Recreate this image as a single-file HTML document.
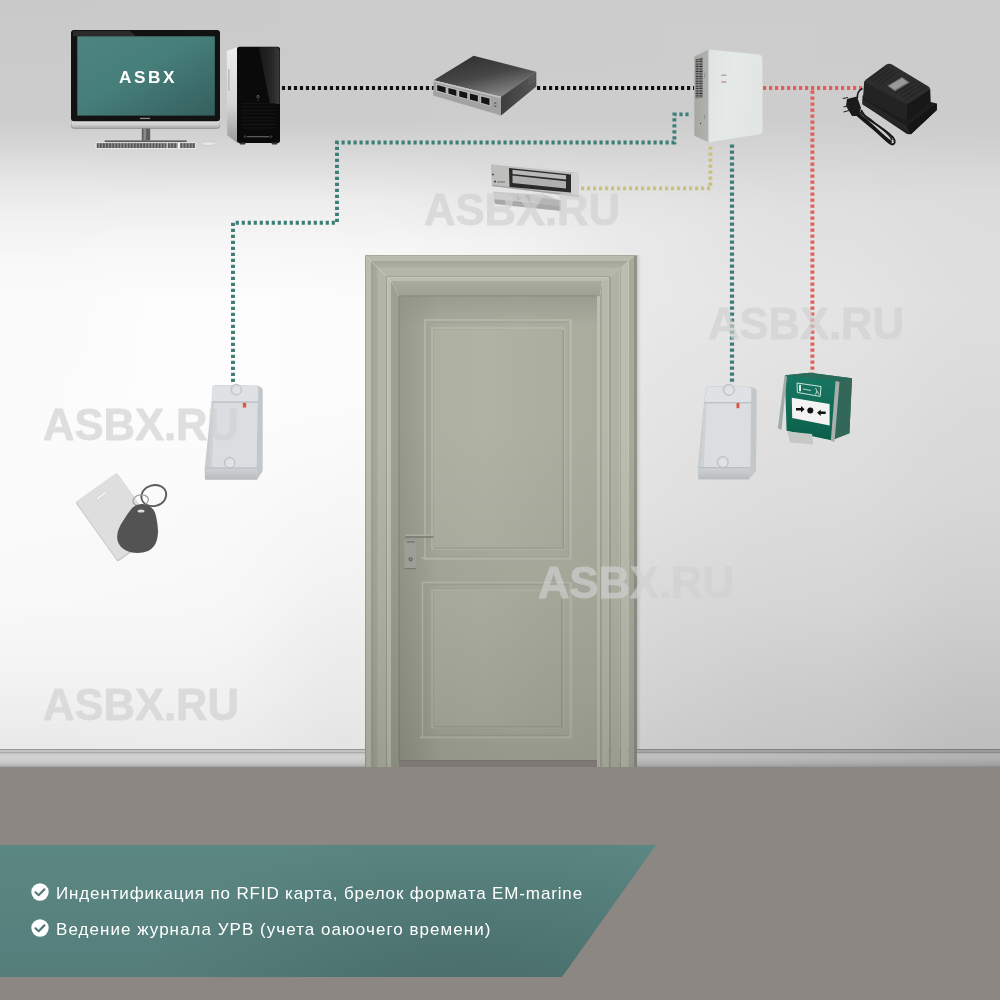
<!DOCTYPE html>
<html><head><meta charset="utf-8">
<style>
html,body{margin:0;padding:0;width:1000px;height:1000px;overflow:hidden;background:#f4f4f4;}
body{position:relative;font-family:"Liberation Sans",sans-serif;}
svg{position:absolute;left:0;top:0;display:block;will-change:transform;}
.bl{will-change:transform;position:absolute;left:56px;color:#fff;font-size:17px;white-space:nowrap;letter-spacing:0.2px;}
</style></head><body>
<svg width="1000" height="1000" viewBox="0 0 1000 1000" xmlns="http://www.w3.org/2000/svg">
<defs>
<linearGradient id="wc0" x1="0" y1="0" x2="0" y2="767" gradientUnits="userSpaceOnUse"><stop offset="0.0000" stop-color="#c9c9c9"/><stop offset="0.1565" stop-color="#cccccc"/><stop offset="0.1956" stop-color="#d8d8d8"/><stop offset="0.2347" stop-color="#e6e6e6"/><stop offset="0.2868" stop-color="#f1f1f1"/><stop offset="0.3390" stop-color="#f8f8f8"/><stop offset="0.3911" stop-color="#fafafa"/><stop offset="0.5215" stop-color="#fbfbfb"/><stop offset="0.7823" stop-color="#f9f9f9"/><stop offset="0.9126" stop-color="#f0f0f0"/><stop offset="0.9713" stop-color="#e9e9e9"/></linearGradient>
<linearGradient id="wc200" x1="0" y1="0" x2="0" y2="767" gradientUnits="userSpaceOnUse"><stop offset="0.0000" stop-color="#cacaca"/><stop offset="0.1565" stop-color="#cccccc"/><stop offset="0.1956" stop-color="#d7d7d7"/><stop offset="0.2216" stop-color="#e0e0e0"/><stop offset="0.2608" stop-color="#ededed"/><stop offset="0.3259" stop-color="#f8f8f8"/><stop offset="0.3911" stop-color="#fdfdfd"/><stop offset="0.5215" stop-color="#fdfdfd"/><stop offset="0.6519" stop-color="#fafafa"/><stop offset="0.7823" stop-color="#f8f8f8"/><stop offset="0.8475" stop-color="#f5f5f5"/><stop offset="0.9126" stop-color="#f1f1f1"/><stop offset="0.9713" stop-color="#ececec"/></linearGradient>
<linearGradient id="wc360" x1="0" y1="0" x2="0" y2="767" gradientUnits="userSpaceOnUse"><stop offset="0.0000" stop-color="#cbcbcb"/><stop offset="0.1565" stop-color="#cccccc"/><stop offset="0.1956" stop-color="#d7d7d7"/><stop offset="0.2216" stop-color="#e0e0e0"/><stop offset="0.2608" stop-color="#ededed"/><stop offset="0.3259" stop-color="#f7f7f7"/><stop offset="0.3911" stop-color="#fcfcfc"/><stop offset="0.5215" stop-color="#fcfcfc"/><stop offset="0.6519" stop-color="#f7f7f7"/><stop offset="0.7562" stop-color="#f2f2f2"/><stop offset="0.8475" stop-color="#ececec"/><stop offset="0.9126" stop-color="#e8e8e8"/><stop offset="0.9713" stop-color="#e4e4e4"/></linearGradient>
<linearGradient id="wc500" x1="0" y1="0" x2="0" y2="767" gradientUnits="userSpaceOnUse"><stop offset="0.0000" stop-color="#cbcbcb"/><stop offset="0.1565" stop-color="#cdcdcd"/><stop offset="0.1956" stop-color="#d6d6d6"/><stop offset="0.2216" stop-color="#dddddd"/><stop offset="0.2608" stop-color="#e8e8e8"/><stop offset="0.3129" stop-color="#f2f2f2"/><stop offset="0.3325" stop-color="#f4f4f4"/></linearGradient>
<linearGradient id="wc640" x1="0" y1="0" x2="0" y2="767" gradientUnits="userSpaceOnUse"><stop offset="0.0000" stop-color="#cccccc"/><stop offset="0.1565" stop-color="#cdcdcd"/><stop offset="0.1956" stop-color="#d5d5d5"/><stop offset="0.2216" stop-color="#dbdbdb"/><stop offset="0.2608" stop-color="#e4e4e4"/><stop offset="0.2999" stop-color="#e8e8e8"/><stop offset="0.3911" stop-color="#e8e8e8"/><stop offset="0.6519" stop-color="#e1e1e1"/><stop offset="0.7823" stop-color="#d9d9d9"/><stop offset="0.9126" stop-color="#d1d1d1"/><stop offset="0.9713" stop-color="#cccccc"/></linearGradient>
<linearGradient id="wc800" x1="0" y1="0" x2="0" y2="767" gradientUnits="userSpaceOnUse"><stop offset="0.0000" stop-color="#cccccc"/><stop offset="0.1565" stop-color="#cdcdcd"/><stop offset="0.1890" stop-color="#d3d3d3"/><stop offset="0.2282" stop-color="#dadada"/><stop offset="0.2738" stop-color="#e0e0e0"/><stop offset="0.3911" stop-color="#e5e5e5"/><stop offset="0.6519" stop-color="#dcdcdc"/><stop offset="0.7823" stop-color="#d6d6d6"/><stop offset="0.9126" stop-color="#cbcbcb"/><stop offset="0.9713" stop-color="#c7c7c7"/></linearGradient>
<linearGradient id="wc1000" x1="0" y1="0" x2="0" y2="767" gradientUnits="userSpaceOnUse"><stop offset="0.0000" stop-color="#cccccc"/><stop offset="0.1565" stop-color="#cccccc"/><stop offset="0.1825" stop-color="#cfcfcf"/><stop offset="0.2216" stop-color="#d7d7d7"/><stop offset="0.2608" stop-color="#dcdcdc"/><stop offset="0.3911" stop-color="#dedede"/><stop offset="0.6519" stop-color="#d7d7d7"/><stop offset="0.7823" stop-color="#cfcfcf"/><stop offset="0.9257" stop-color="#c2c2c2"/><stop offset="0.9713" stop-color="#bebebe"/></linearGradient>
<filter id="hblur" x="-0.2" y="0" width="1.4" height="1" color-interpolation-filters="sRGB"><feGaussianBlur stdDeviation="45 0"/></filter>
<linearGradient id="wA" x1="0" y1="0" x2="0" y2="767" gradientUnits="userSpaceOnUse"><stop offset="0.000" stop-color="#c8c8c8"/><stop offset="0.104" stop-color="#cbcbcb"/><stop offset="0.209" stop-color="#e2e2e2"/><stop offset="0.326" stop-color="#f4f4f4"/><stop offset="0.522" stop-color="#f8f8f8"/><stop offset="0.782" stop-color="#f8f8f8"/><stop offset="0.965" stop-color="#f4f4f4"/><stop offset="1.000" stop-color="#f4f4f4"/></linearGradient><linearGradient id="wB" x1="0" y1="0" x2="0" y2="767" gradientUnits="userSpaceOnUse"><stop offset="0.000" stop-color="#cccccc"/><stop offset="0.104" stop-color="#d0d0d0"/><stop offset="0.209" stop-color="#dddddd"/><stop offset="0.326" stop-color="#e4e4e4"/><stop offset="0.522" stop-color="#e4e4e4"/><stop offset="0.782" stop-color="#e1e1e1"/><stop offset="0.965" stop-color="#dcdcdc"/><stop offset="1.000" stop-color="#dcdcdc"/></linearGradient><linearGradient id="wC" x1="0" y1="0" x2="0" y2="767" gradientUnits="userSpaceOnUse"><stop offset="0.000" stop-color="#cdcdcd"/><stop offset="0.104" stop-color="#d2d2d2"/><stop offset="0.209" stop-color="#dadada"/><stop offset="0.326" stop-color="#e0e0e0"/><stop offset="0.522" stop-color="#dddddd"/><stop offset="0.782" stop-color="#d3d3d3"/><stop offset="0.965" stop-color="#c8c8c8"/><stop offset="1.000" stop-color="#c8c8c8"/></linearGradient>
  <linearGradient id="mBg" x1="360" y1="0" x2="640" y2="0" gradientUnits="userSpaceOnUse"><stop offset="0" stop-color="#000"/><stop offset="1" stop-color="#fff"/></linearGradient>
  <linearGradient id="mCg" x1="700" y1="0" x2="1000" y2="0" gradientUnits="userSpaceOnUse"><stop offset="0" stop-color="#000"/><stop offset="1" stop-color="#fff"/></linearGradient>
  <mask id="mB"><rect width="1000" height="1000" fill="url(#mBg)"/></mask>
  <mask id="mC"><rect width="1000" height="1000" fill="url(#mCg)"/></mask>

  <linearGradient id="wallV" x1="0" y1="0" x2="0" y2="1">
    <stop offset="0" stop-color="#c9c9c9"/>
    <stop offset="0.2" stop-color="#e2e2e2"/>
    <stop offset="0.4" stop-color="#f2f2f2"/>
    <stop offset="1" stop-color="#f7f7f7"/>
  </linearGradient>
  <linearGradient id="wallH" x1="0" y1="0" x2="1" y2="0">
    <stop offset="0" stop-color="#fff" stop-opacity="0.5"/>
    <stop offset="0.45" stop-color="#fff" stop-opacity="0.2"/>
    <stop offset="0.7" stop-color="#000" stop-opacity="0.03"/>
    <stop offset="1" stop-color="#000" stop-opacity="0.06"/>
  </linearGradient>
  <linearGradient id="banner" x1="0" y1="0" x2="0" y2="1">
    <stop offset="0" stop-color="#5b8782"/>
    <stop offset="1" stop-color="#557e7b"/>
  </linearGradient>
  <radialGradient id="bannerDark" cx="470" cy="1000" r="330" gradientUnits="userSpaceOnUse" gradientTransform="translate(470 1000) scale(1 0.55) translate(-470 -1000)">
    <stop offset="0" stop-color="#1a2e2d" stop-opacity="0.22"/>
    <stop offset="1" stop-color="#1a2e2d" stop-opacity="0"/>
  </radialGradient>
  <linearGradient id="screen" x1="0" y1="0" x2="1" y2="1">
    <stop offset="0" stop-color="#4d8481"/>
    <stop offset="0.45" stop-color="#467e7a"/>
    <stop offset="1" stop-color="#345f5d"/>
  </linearGradient>
  <linearGradient id="towerSide" x1="0" y1="0" x2="0" y2="1">
    <stop offset="0" stop-color="#eeeeee"/>
    <stop offset="0.6" stop-color="#d4d4d4"/>
    <stop offset="1" stop-color="#9a9a9a"/>
  </linearGradient>
  <linearGradient id="swTop" x1="0.2" y1="0" x2="0.75" y2="1">
    <stop offset="0" stop-color="#2e2e2e"/>
    <stop offset="0.5" stop-color="#474747"/>
    <stop offset="1" stop-color="#8e8e8e"/>
  </linearGradient>
  <linearGradient id="swSide" x1="0" y1="0" x2="1" y2="0">
    <stop offset="0" stop-color="#3e3e3e"/>
    <stop offset="1" stop-color="#555555"/>
  </linearGradient>
  <pattern id="keys" width="3.1" height="1.65" patternUnits="userSpaceOnUse">
    <rect width="3.1" height="1.65" fill="#d8d8d8"/>
    <rect x="0.3" y="0.2" width="2.5" height="1.25" fill="#2e2e2e"/>
  </pattern>
  <pattern id="vent" x="695.4" y="58" width="7.4" height="2.45" patternUnits="userSpaceOnUse">
    <rect width="7.4" height="2.45" fill="#a9aba7"/>
    <rect x="0.2" y="0.5" width="3.2" height="1.35" fill="#2a2a2a"/>
    <rect x="3.9" y="0.5" width="3.2" height="1.35" fill="#2a2a2a"/>
  </pattern>
  <linearGradient id="boxSide" x1="0" y1="0" x2="1" y2="0"><stop offset="0" stop-color="#a6a8a4"/><stop offset="1" stop-color="#b0b2ae"/></linearGradient>
  <linearGradient id="boxFront" x1="0" y1="0" x2="1" y2="0.3"><stop offset="0" stop-color="#dfe4e2"/><stop offset="0.5" stop-color="#e5eae8"/><stop offset="1" stop-color="#e1e6e4"/></linearGradient>

  <linearGradient id="cove" x1="0" y1="0" x2="1" y2="0"><stop offset="0" stop-color="#9ea194"/><stop offset="1" stop-color="#abae9f"/></linearGradient>
  <linearGradient id="coveT" x1="0" y1="0" x2="0" y2="1"><stop offset="0" stop-color="#a3a698"/><stop offset="1" stop-color="#adb0a2"/></linearGradient>
  <linearGradient id="jambT" x1="0" y1="0" x2="0" y2="1"><stop offset="0" stop-color="#a9ac9e"/><stop offset="1" stop-color="#9c9f91"/></linearGradient>
  <linearGradient id="leaf" x1="399" y1="0" x2="597" y2="0" gradientUnits="userSpaceOnUse">
    <stop offset="0" stop-color="#95988a"/><stop offset="0.13" stop-color="#a0a395"/><stop offset="0.2" stop-color="#a8ab9d"/><stop offset="0.6" stop-color="#acafa0"/><stop offset="1" stop-color="#aaad9e"/></linearGradient>
  <linearGradient id="leafTop" x1="0" y1="0" x2="0" y2="1"><stop offset="0" stop-color="#8e9184" stop-opacity="0.6"/><stop offset="1" stop-color="#8e9184" stop-opacity="0"/></linearGradient>
  <linearGradient id="panel" x1="0" y1="0" x2="1" y2="0"><stop offset="0" stop-color="#aeb1a2"/><stop offset="0.4" stop-color="#b0b3a4"/><stop offset="1" stop-color="#abae9f"/></linearGradient>

  <linearGradient id="bbL" x1="0" y1="749" x2="0" y2="767" gradientUnits="userSpaceOnUse"><stop offset="0.0000" stop-color="#979797"/><stop offset="0.0500" stop-color="#979797"/><stop offset="0.0667" stop-color="#c3c3c3"/><stop offset="0.1444" stop-color="#c3c3c3"/><stop offset="0.1722" stop-color="#a9a9a9"/><stop offset="0.2222" stop-color="#a9a9a9"/><stop offset="0.2556" stop-color="#cbcbcb"/><stop offset="0.4444" stop-color="#d2d2d2"/><stop offset="0.6111" stop-color="#cfcfcf"/><stop offset="0.7778" stop-color="#c6c6c6"/><stop offset="0.8889" stop-color="#bababa"/><stop offset="0.9611" stop-color="#aaaaaa"/><stop offset="1.0000" stop-color="#a0a0a0"/></linearGradient>
  <linearGradient id="bbR" x1="0" y1="749" x2="0" y2="767" gradientUnits="userSpaceOnUse"><stop offset="0.0000" stop-color="#858585"/><stop offset="0.0500" stop-color="#858585"/><stop offset="0.0667" stop-color="#a5a5a5"/><stop offset="0.1444" stop-color="#a5a5a5"/><stop offset="0.1722" stop-color="#939393"/><stop offset="0.2222" stop-color="#939393"/><stop offset="0.2556" stop-color="#bcbcbc"/><stop offset="0.4444" stop-color="#bfbfbf"/><stop offset="0.6111" stop-color="#b9b9b9"/><stop offset="0.7778" stop-color="#b2b2b2"/><stop offset="0.8889" stop-color="#aaaaaa"/><stop offset="0.9611" stop-color="#a0a0a0"/><stop offset="1.0000" stop-color="#969696"/></linearGradient>
  <linearGradient id="rdBot" x1="0" y1="0" x2="0" y2="1"><stop offset="0" stop-color="#cdd1d3"/><stop offset="1" stop-color="#b9bcbe"/></linearGradient>
  <linearGradient id="towerGloss" x1="0" y1="0" x2="1" y2="0"><stop offset="0" stop-color="#1a1a1a"/><stop offset="0.6" stop-color="#262626"/><stop offset="1" stop-color="#3a3a3a"/></linearGradient>
  <linearGradient id="floorTop" x1="0" y1="0" x2="0" y2="1"><stop offset="0" stop-color="#a09a97" stop-opacity="0.35"/><stop offset="1" stop-color="#a09a97" stop-opacity="0"/></linearGradient>
  <linearGradient id="chin" x1="0" y1="0" x2="0" y2="1"><stop offset="0.5" stop-color="#e2e2e2"/><stop offset="0.8" stop-color="#cdcdcd"/><stop offset="1" stop-color="#a9a9a9"/></linearGradient>
  <linearGradient id="casShadow" x1="0" y1="0" x2="1" y2="0"><stop offset="0" stop-color="#000" stop-opacity="0.13"/><stop offset="1" stop-color="#000" stop-opacity="0"/></linearGradient>
  <linearGradient id="bbDark" x1="0" y1="0" x2="1" y2="0"><stop offset="0" stop-color="#000" stop-opacity="0"/><stop offset="1" stop-color="#000" stop-opacity="0.07"/></linearGradient>
  <linearGradient id="doorShade" x1="0" y1="255" x2="0" y2="767" gradientUnits="userSpaceOnUse"><stop offset="0" stop-color="#000" stop-opacity="0"/><stop offset="0.33" stop-color="#000" stop-opacity="0"/><stop offset="0.67" stop-color="#000" stop-opacity="0.05"/><stop offset="0.87" stop-color="#000" stop-opacity="0.095"/><stop offset="1" stop-color="#000" stop-opacity="0.13"/></linearGradient>
  <linearGradient id="fireFront" x1="0" y1="0" x2="0" y2="1"><stop offset="0" stop-color="#197765"/><stop offset="0.5" stop-color="#126c57"/><stop offset="1" stop-color="#0b5f4a"/></linearGradient>
</defs>
<!-- wall -->
<g filter="url(#hblur)">
<rect x="-150" y="0" width="250.0" height="767" fill="url(#wc0)"/>
<rect x="100.0" y="0" width="180.0" height="767" fill="url(#wc200)"/>
<rect x="280.0" y="0" width="150.0" height="767" fill="url(#wc360)"/>
<rect x="430.0" y="0" width="140.0" height="767" fill="url(#wc500)"/>
<rect x="570.0" y="0" width="150.0" height="767" fill="url(#wc640)"/>
<rect x="720.0" y="0" width="180.0" height="767" fill="url(#wc800)"/>
<rect x="900.0" y="0" width="250.0" height="767" fill="url(#wc1000)"/>
</g>
<!-- baseboard -->
<rect x="0" y="749" width="1000" height="18" fill="url(#bbL)"/>
<rect x="0" y="749" width="1000" height="18" fill="url(#bbR)" mask="url(#mB)"/>
<rect x="700" y="749" width="300" height="18" fill="url(#bbDark)"/>
<!-- floor -->
<rect x="0" y="767" width="1000" height="233" fill="#8d8784"/>


<!-- door frame -->
<g>
<polygon points="365,255 366,256 366,767 365,767" fill="#a0a396"/>
<polygon points="365,255 637,255 634,256 366,256" fill="#a6a99b"/>
<polygon points="637,255 637,767 634,767 634,256" fill="#909386"/>
<polygon points="366,256 371,261 371,767 366,767" fill="#babdae"/>
<polygon points="366,256 634,256 628.5,261 371,261" fill="#b9bcad"/>
<polygon points="634,256 634,767 628.5,767 628.5,261" fill="#a8ab9c"/>
<polygon points="371,261 378,268 378,767 371,767" fill="url(#cove)"/>
<polygon points="371,261 628.5,261 620.8,268 378,268" fill="url(#coveT)"/>
<polygon points="628.5,261 628.5,767 620.8,767 620.8,268" fill="#bbbeaf"/>
<polygon points="620.8,268 620.8,767 619.7,767 619.7,268" fill="#9a9d8f"/>
<polygon points="378,268 386,276 386,767 378,767" fill="#b3b6a7"/>
<polygon points="378,268 619.7,268 610.9,276 386,276" fill="#b4b7a8"/>
<polygon points="619.7,268 619.7,767 610.9,767 610.9,276" fill="#b0b3a4"/>
<polygon points="386,276 387.2,277.2 387.2,767 386,767" fill="#9a9d8f"/>
<polygon points="386,276 610.9,276 608.7,277.2 387.2,277.2" fill="#a0a395"/>
<polygon points="610.9,276 610.9,767 608.7,767 608.7,277.2" fill="#9b9e90"/>
<polygon points="387.2,277.2 391,281 391,767 387.2,767" fill="#bcbfb1"/>
<polygon points="387.2,277.2 608.7,277.2 602,281 391,281" fill="#babdaf"/>
<polygon points="608.7,277.2 608.7,767 602,767 602,281" fill="#b6b9aa"/>
<polygon points="391,281 399,296 399,767 391,767" fill="#9da092"/>
<polygon points="391,281 602,281 600,296 399,296" fill="url(#jambT)"/>
<polygon points="602,281 602,767 600,767 600,296" fill="#a2a597"/>
<polygon points="600,296 600,767 597,767 597,296" fill="#bbbeb0"/>

<rect x="637" y="255" width="4" height="494" fill="url(#casShadow)"/>
</g>
<rect x="399" y="760" width="198" height="7" fill="#8f8a87"/>
<!-- door leaf -->
<g>
  <rect x="398.6" y="295.6" width="198.4" height="465" fill="#7f8275"/>
  <rect x="399.5" y="296.5" width="197.5" height="463.5" fill="url(#leaf)"/>
  <rect x="399.5" y="296.5" width="197.5" height="30" fill="url(#leafTop)"/>
  <!-- upper panel -->
  <rect x="425" y="320" width="146" height="239" fill="none" stroke="#b7baab" stroke-width="1.5"/>
  <rect x="427" y="322" width="142" height="235" fill="none" stroke="#a0a395" stroke-width="1.2"/>
  <rect x="432" y="328" width="132" height="221" fill="none" stroke="#b6b9aa" stroke-width="1.6"/>
  <rect x="434" y="330" width="128.5" height="217.5" fill="url(#panel)"/>
  <rect x="562.5" y="330" width="1.5" height="219" fill="#9a9d8f"/>
  <rect x="434" y="547.5" width="130" height="1.3" fill="#9fa294"/>
  <rect x="569" y="320" width="2.4" height="239" fill="#b5b8aa"/>
  <rect x="422" y="557.5" width="150" height="1.6" fill="#b8bbad"/>
  <!-- lower panel -->
  <rect x="422.5" y="582.5" width="149" height="155" fill="none" stroke="#b7baab" stroke-width="1.5"/>
  <rect x="424.5" y="584.5" width="145" height="151" fill="none" stroke="#a0a395" stroke-width="1.2"/>
  <rect x="432" y="590.5" width="131" height="137" fill="none" stroke="#b6b9aa" stroke-width="1.6"/>
  <rect x="434" y="592.5" width="127.2" height="133.7" fill="url(#panel)"/>
  <rect x="561.2" y="592.5" width="1.5" height="135" fill="#9a9d8f"/>
  <rect x="434" y="726.2" width="128.7" height="1.3" fill="#9fa294"/>
  <rect x="569" y="582.5" width="2.4" height="155" fill="#b5b8aa"/>
  <rect x="420" y="736.5" width="152" height="1.8" fill="#b9bcae"/>
</g>
<!-- door handle -->
<rect x="404.5" y="540" width="11.5" height="29" fill="#a3a59d"/>
<rect x="404.5" y="568" width="11.5" height="1.2" fill="#7c7e77"/>
<rect x="406.5" y="541.3" width="8.5" height="1.3" fill="#74766f"/>
<rect x="405.5" y="534.6" width="28" height="1.4" fill="#b2b4ab"/>
<rect x="405.5" y="536.2" width="28" height="1.6" fill="#7e8079"/>
<circle cx="410.6" cy="559.2" r="1.5" fill="none" stroke="#55574f" stroke-width="1"/>

<rect x="365" y="255" width="272" height="512" fill="url(#doorShade)"/>
<!-- ===== dotted lines ===== -->
<g fill="none" stroke-width="3.9" stroke-dasharray="3.2 2.8">
  <line x1="281.9" y1="88" x2="434" y2="88" stroke="#111"/>
  <line x1="537" y1="88" x2="694" y2="88" stroke="#111"/>
  <line x1="763" y1="88" x2="862" y2="88" stroke="#e25f5a"/>
  <line x1="812.4" y1="90.5" x2="812.4" y2="373" stroke="#e25f5a"/>
  <polyline points="233,382 233,222.7 337,222.7 337,142.5 674.4,142.5 674.4,114.4 691.5,114.4" stroke="#3d7e77"/>
  <polyline points="581,188.4 710.4,188.4 710.4,144" stroke="#c9c17f"/>
  <line x1="732" y1="144.5" x2="732" y2="382.5" stroke="#3e7d79" stroke-width="4.2"/>
</g>

<!-- ===== monitor ===== -->
<g>
  <rect x="71" y="112" width="149" height="16.8" rx="3.5" fill="#8c8c8c"/>
  <rect x="71.3" y="112" width="148.4" height="16" rx="3.2" fill="url(#chin)"/>
  <rect x="71" y="30" width="149" height="91.3" rx="3" fill="#121212"/>
  <polygon points="73,31 130,31 136,36 73,36" fill="#2b2b2b"/>
  <rect x="77.3" y="36.3" width="137.5" height="79.3" fill="url(#screen)"/>
  <rect x="140" y="117.8" width="10" height="1.3" fill="#8a8a8a"/>
  <rect x="141.8" y="128.5" width="8.4" height="12" fill="#5e5e5e"/>
  <rect x="143.5" y="128.5" width="2.6" height="12" fill="#8a8a8a"/>
  <rect x="104.7" y="140.4" width="82" height="1.8" fill="#5c5c5c"/>
  <rect x="95.6" y="142.4" width="100" height="6.2" fill="#eeeeee"/>
  <rect x="96.6" y="143.1" width="70" height="4.9" fill="url(#keys)"/>
  <rect x="167.5" y="143.1" width="10" height="4.9" fill="url(#keys)"/>
  <rect x="180" y="143.1" width="15" height="4.9" fill="url(#keys)"/>
  <ellipse cx="208.6" cy="143.6" rx="8" ry="1.9" fill="#e6e6e6" stroke="#bdbdbd" stroke-width="0.6"/>
  <text x="119" y="82.6" font-family="Liberation Sans" font-weight="bold" font-size="17.2" letter-spacing="2.6" fill="#ffffff">ASBX</text>
</g>

<!-- ===== PC tower ===== -->
<g>
  <polygon points="226.8,51 237.4,47 237.4,143 227.2,135.2" fill="url(#towerSide)"/>
  <rect x="228.5" y="69" width="0.8" height="22" fill="#9a9a9a"/>
  <rect x="237" y="46.8" width="43" height="96.2" rx="2.5" fill="#0a0a0a"/>
  <polygon points="259,47.3 277.5,47.3 279.5,50 279.5,104 270,104" fill="url(#towerGloss)"/>
  <g fill="#161616">
    <rect x="242" y="103" width="34" height="0.9"/>
    <rect x="242" y="106.5" width="34" height="0.9"/>
    <rect x="242" y="110" width="34" height="0.9"/>
    <rect x="242" y="113.5" width="34" height="0.9"/>
    <rect x="242" y="117" width="34" height="0.9"/>
    <rect x="242" y="120.5" width="34" height="0.9"/>
    <rect x="242" y="124" width="34" height="0.9"/>
    <rect x="242" y="127.5" width="34" height="0.9"/>
  </g>
  <circle cx="258" cy="96.6" r="1.2" fill="none" stroke="#8a8a8a" stroke-width="0.6"/>
  <rect x="257.5" y="99.5" width="1" height="1" fill="#666"/>
  <rect x="247" y="136" width="22" height="1.3" fill="#5a5a5a"/>
  <circle cx="245" cy="136.6" r="0.9" fill="none" stroke="#777" stroke-width="0.5"/>
  <circle cx="271" cy="136.6" r="0.9" fill="none" stroke="#777" stroke-width="0.5"/>
  <rect x="239.5" y="142.6" width="6" height="1.8" rx="0.8" fill="#333"/>
  <rect x="271.5" y="142.6" width="6" height="1.8" rx="0.8" fill="#333"/>
</g>
<!-- ===== switch ===== -->
<g>
  <polygon points="433.7,80.2 473.6,55.7 536.3,71.7 501,96.8" fill="url(#swTop)"/>
  <polygon points="433.7,80.2 501,96.8 501,115.6 433.1,95.6" fill="#a2a2a2"/>
  <polygon points="433.7,80.2 501,96.8 501,98.3 433.6,81.7" fill="#c4c4c4"/>
  <polygon points="501,96.8 536.3,71.7 536.3,86.5 501,115.6" fill="url(#swSide)"/>
  <g stroke="#7a7a7a" stroke-width="0.6">
    <line x1="528.5" y1="80" x2="531.5" y2="77.8"/><line x1="528.5" y1="82.5" x2="531.5" y2="80.3"/><line x1="528.5" y1="85" x2="531.5" y2="82.8"/>
    <line x1="532" y1="77.2" x2="535" y2="75"/><line x1="532" y1="79.7" x2="535" y2="77.5"/><line x1="532" y1="82.2" x2="535" y2="80"/>
  </g>
  <g fill="#bdbdbd">
    <polygon points="436.1,83.7 446.7,86.4 446.7,94.2 436.1,91.4"/>
    <polygon points="447.4,86.6 457.4,89.2 457.4,97.1 447.4,94.5"/>
    <polygon points="458.2,89.4 468.2,92 468.2,100 458.2,97.3"/>
    <polygon points="468.9,92.2 478.9,94.8 478.9,103 468.9,100.3"/>
    <polygon points="480.2,95.1 490.5,97.8 490.5,106.4 480.2,103.6"/>
  </g>
  <g fill="#141414">
    <polygon points="437.2,85 445.6,87.2 445.6,93 437.2,90.6"/>
    <polygon points="448.4,87.9 456.4,90 456.4,95.9 448.4,93.6"/>
    <polygon points="459.2,90.7 467.2,92.8 467.2,98.8 459.2,96.5"/>
    <polygon points="469.9,93.5 477.9,95.6 477.9,101.8 469.9,99.5"/>
    <polygon points="481.2,96.4 489.5,98.6 489.5,105.2 481.2,102.8"/>
  </g>
  <rect x="494" y="102.3" width="2.4" height="1.6" fill="#6a6a6a"/>
  <rect x="494" y="105.4" width="2.4" height="1.6" fill="#6a6a6a"/>
</g>
<!-- ===== controller box ===== -->
<g>
  <polygon points="694.3,56.5 708.6,49.4 708.6,142.3 694.3,135.7" fill="url(#boxSide)"/>
  <polygon points="695.4,59.5 702.8,57 702.8,97.8 695.4,98.2" fill="url(#vent)"/>
  <rect x="704.3" y="73" width="0.9" height="4.4" fill="#8a8a8a"/>
  <rect x="704.3" y="114.8" width="0.9" height="4.4" fill="#8a8a8a"/>
  <rect x="700" y="123" width="1.2" height="0.9" fill="#333"/>
  <path d="M708.6,49.4 L758.5,54.6 Q762.4,55.2 762.4,59.5 L762.5,130 Q762.5,134 758.5,134.6 L708.6,142.3 Z" fill="url(#boxFront)"/>
  <rect x="721.3" y="74.6" width="5" height="1.2" fill="#9a9a9a"/>
  <rect x="721.3" y="81.3" width="5" height="1.3" fill="#b98a8a"/>
</g>
<!-- ===== power supply ===== -->
<g>
  <!-- base plate -->
  <polygon points="862.5,95.7 880,90 936.8,103.4 936.8,110 910.9,134.2 907,134 862.5,104" fill="#1c1c1c"/>
  <polygon points="862.5,99 907,126 910.9,134.2 862.5,104.5" fill="#262626"/>
  <polygon points="907,126 936.8,103.4 936.8,110 910.9,134.2" fill="#141414"/>
  <!-- body -->
  <polygon points="864.2,80.9 907.6,103.4 906.5,121 863,98" fill="#232323"/>
  <polygon points="907.6,103.4 930.2,88.6 930.7,102.3 907,121" fill="#181818"/>
  <path d="M866,79.5 L886,64.8 Q889,63 892,64.6 L928.5,86.5 Q931,88.3 928.8,90 L909.5,103 Q907,104.5 904.5,103.3 L866.5,83 Q863.5,81.3 866,79.5 Z" fill="#2d2d2d"/>
  <path d="M869,79.5 L886,67 M872.5,81.3 L889.5,68.8 M876,83.1 L893,70.6 M879.5,84.9 L896.5,72.4 M896,93 L915,81 M899.5,95 L918.5,83 M903,97 L922,85 M906.5,99 L925.5,87" stroke="#1f1f1f" stroke-width="0.9" fill="none"/>
  <polygon points="887.3,85.8 902.1,77 909.8,82.5 895,91.3" fill="#6e6e6e"/>
  <polygon points="889,85.8 902.1,78.2 907.5,82.2 894.5,90" fill="#9a9a9a"/>
  <!-- plug and cord -->
  <path d="M862.5,88.5 C858.5,90.5 857,94 857.5,98" fill="none" stroke="#161616" stroke-width="1.4"/>
  <path d="M855,113 C861,119 868,124 876,131 C882,136 887,142 891,144 C895,145.5 896,141 893,137.5 C888,132 879,126 871,121 C866,118 863,114 861,110" fill="none" stroke="#141414" stroke-width="1.9"/>
  <path d="M856,112 C863,118 871,125 879,132.5 C884,137 888,141 891.5,142.5" fill="none" stroke="#181818" stroke-width="3.2"/>
  <path d="M858,111 C866,116 874,122 882,129 C887,133 891,137 892,140" fill="none" stroke="#1e1e1e" stroke-width="1.6"/>
  <polygon points="847,99 857,96.5 861,108 858,116 852,116 846,106" fill="#1a1a1a"/>
  <path d="M842.7,98.5 L848,97.5 M843.5,107 L849,105.5 M843.5,112 L849,110.5" stroke="#2a2a2a" stroke-width="1.2"/>
</g>
<!-- ===== maglock ===== -->
<g>
  <polygon points="493,191.5 545,195 561,200.5 561,210.5 495,203.5" fill="#c9c9c9"/>
  <polygon points="494,199 561,206 561,211 495,204" fill="#a8a8a8"/>
  <polygon points="535,197 561,200.5 561,206 535,203" fill="#b5b5b5"/>
  <polygon points="517,194 530,195.5 530,201 517,199.5" fill="#b9b9b9"/>
  <polygon points="491,163 578.5,171.5 578.5,197 492,186" fill="#bdbdbd"/>
  <polygon points="491,163 509,165 509.5,187 492,186" fill="#bebfba"/>
  <polygon points="571,173.5 578.5,171.5 578.5,197 571,193" fill="#d2d2d2"/>
  <polygon points="491,163 578.5,171.5 578.5,172.8 491,164.3" fill="#dedede"/>
  <polygon points="492,184.8 578.5,195.6 578.5,197 492,186" fill="#a0a0a0"/>
  <polygon points="509,168 571,174.5 571,192.5 509.5,187" fill="#2a2a2a"/>
  <polygon points="512.5,169.8 566,175.3 566,179.6 512.5,174" fill="#b8b8b8"/>
  <polygon points="512.5,175.6 566,181.2 566,188.6 512.5,183" fill="#afafaf"/>
  <circle cx="493" cy="174.5" r="0.9" fill="#444"/>
  <circle cx="495" cy="181.5" r="1.1" fill="#444"/>
  <rect x="497" y="181.5" width="8" height="0.9" fill="#666"/>
</g>
<!-- ===== left reader ===== -->
<g>
  <path d="M215.5,385 L257,385.6 Q261,386 262.5,389.5 L262.5,471 L257.2,479.8 L205,479.8 L204.5,470 L211.6,401.8 L212.3,388 Q212.6,385 215.5,385 Z" fill="#c9cdd0"/>
  <polygon points="258.4,386.5 262.5,389.5 262.5,471 257.2,479 256.5,468.4" fill="#c3c7ca"/>
  <path d="M215.8,385.6 L256.5,386 Q258.2,386.2 258.2,388 L258,401.6 L211.9,401.6 L212.4,388.5 Q212.8,385.6 215.8,385.6 Z" fill="#dfe2e4"/>
  <polygon points="211.9,402.6 257.6,402.6 256.6,467.6 209.8,467.6" fill="#dadee1"/>
  <polygon points="211.9,402.6 214,402.6 212,467.6 209.8,467.6" fill="#cdd1d4"/>
  <polygon points="211.9,401.5 257.8,401.5 257.8,402.7 211.9,402.7" fill="#bcc0c3"/>
  <polygon points="205.3,468.2 256.8,468.2 256.8,479.4 205.3,479.4" fill="url(#rdBot)"/>
  <polygon points="205.3,467.6 256.8,467.6 256.8,468.6 205.3,468.6" fill="#b8bcbf"/>
  <circle cx="236.2" cy="389.6" r="5.3" fill="#d6dadd" stroke="#b6babd" stroke-width="0.9"/>
  <circle cx="236.8" cy="390.2" r="3.6" fill="#e1e4e6"/>
  <circle cx="229.6" cy="462.6" r="5.3" fill="#d6dadd" stroke="#b6babd" stroke-width="0.9"/>
  <circle cx="230.2" cy="463.2" r="3.6" fill="#e1e4e6"/>
  <rect x="242.8" y="402.8" width="3.4" height="4.8" fill="#de5a3f"/>
</g>
<!-- ===== right reader ===== -->
<g>
  <path d="M709,386 L751,386.8 Q755,387.3 756.5,390 L756,471 L749,479.5 L698,479.5 L697.5,469 L704,402.5 L705.5,389 Q706,386 709,386 Z" fill="#c9cdd0"/>
  <polygon points="751,387.5 756.5,390 756,471 749,479 750.5,467.4" fill="#c3c7ca"/>
  <path d="M709.3,386.6 L749.5,387.2 Q751.3,387.4 751.3,389 L751.2,402.3 L704.6,402.3 L705.9,389.5 Q706.3,386.6 709.3,386.6 Z" fill="#dfe2e4"/>
  <polygon points="704.4,403.2 751,403.2 750.3,467 701.6,467" fill="#dadee1"/>
  <polygon points="704.4,403.2 706.6,403.2 703.8,467 701.6,467" fill="#cdd1d4"/>
  <polygon points="704.6,402 751.4,402 751.4,403.3 704.6,403.3" fill="#bcc0c3"/>
  <polygon points="698.3,467.8 750.3,467.8 749,479.2 698.6,479.2" fill="url(#rdBot)"/>
  <polygon points="698.3,467.2 750.3,467.2 750.3,468.2 698.3,468.2" fill="#b6babd"/>
  <circle cx="728.8" cy="389.8" r="5.5" fill="#d6dadd" stroke="#b4b8bb" stroke-width="0.9"/>
  <circle cx="729.4" cy="390.4" r="3.7" fill="#e1e4e6"/>
  <circle cx="722.7" cy="462.1" r="5.5" fill="#d6dadd" stroke="#b4b8bb" stroke-width="0.9"/>
  <circle cx="723.3" cy="462.7" r="3.7" fill="#e1e4e6"/>
  <rect x="736.5" y="403" width="2.9" height="5.2" fill="#d9553f"/>
</g>
<!-- ===== fire call point ===== -->
<g>
  <polygon points="784.9,375.3 809.8,372.7 852,378.3 849.4,433.3 831.3,440.2 786.6,430.8" fill="url(#fireFront)"/>
  <polygon points="835.6,380 852,378.3 849.4,433.3 831.3,440.2" fill="#33675a"/>
  <polygon points="784.9,375.3 809.8,372.7 852,378.3 835.6,380" fill="#2a6b5a"/>
  <polygon points="784.5,376 787,376.5 781.5,430 777.8,428.2" fill="#a4aca6"/>
  <polygon points="835.6,381 839.5,382 834.5,442 830.8,441" fill="#a9b0ab"/>
  <polygon points="787.5,431.6 812,434 813.3,444.5 790,442.5" fill="#c6c8c6"/>
  <polygon points="797,383 821,386.5 820.2,396.4 797.4,392.5" fill="none" stroke="#dff0e6" stroke-width="0.9"/>
  <rect x="799" y="384.8" width="2" height="6.5" fill="#dff0e6"/>
  <path d="M803,389 L811,390.5 M815.5,388 l1.5,3 l-1.5,3.5 M817,391 l2,3.5" stroke="#dff0e6" stroke-width="0.8" fill="none"/>
  <polygon points="791.8,397.7 829.6,404.1 829.6,425.6 792.2,417.9" fill="#f3f3f3"/>
  <circle cx="810.3" cy="410.6" r="3" fill="#111"/>
  <path d="M796,408 h5 v-2 l3.6,3.2 l-3.6,3.2 v-2 h-5 z" fill="#111"/>
  <path d="M825.7,411.5 h-5 v-2 l-3.6,3.2 l3.6,3.2 v-2 h5 z" fill="#111"/>
</g>
<!-- ===== card & fob ===== -->
<g>
  <g transform="translate(117,517) rotate(-35.5)">
    <rect x="-25.5" y="-36" width="51" height="73" rx="2" fill="#c9c8c9"/>
    <rect x="-24.5" y="-36" width="50" height="71.5" rx="2" fill="#dfdedf"/>
    <rect x="-6" y="-27.5" width="12" height="2.2" rx="1" fill="#fafafa" stroke="#c8c8c8" stroke-width="0.6"/>
  </g>
  <ellipse cx="153.8" cy="495.6" rx="12.6" ry="10.4" transform="rotate(-15 153.8 495.6)" fill="none" stroke="#5a5a5a" stroke-width="1.8"/>
  <ellipse cx="140.7" cy="500.3" rx="7.8" ry="5.4" transform="rotate(-10 140.7 500.3)" fill="none" stroke="#a0a0a0" stroke-width="1.3"/>
  <path d="M137,505 C145,502 154,506 156,516 C159,530 160,545 148,551 C138,555 124,553 119,544 C115,537 118,528 123,521 C128,514 131,507 137,505 Z" fill="#535353"/>
  <ellipse cx="141" cy="511" rx="3.5" ry="1.6" fill="#dcdcdc"/>
</g>
<!-- ===== watermarks ===== -->
<g font-family="Liberation Sans" font-weight="bold" font-size="45" fill="#d1d1d1" stroke="#d1d1d1" stroke-width="0.9" stroke-linejoin="round" opacity="0.667">
  <text x="424" y="225" textLength="196" lengthAdjust="spacingAndGlyphs">ASBX.RU</text>
  <text x="708" y="339" textLength="196" lengthAdjust="spacingAndGlyphs">ASBX.RU</text>
  <text x="43" y="440" textLength="196" lengthAdjust="spacingAndGlyphs">ASBX.RU</text>
  <text x="538" y="598" textLength="196" lengthAdjust="spacingAndGlyphs">ASBX.RU</text>
  <text x="43" y="720" textLength="196" lengthAdjust="spacingAndGlyphs">ASBX.RU</text>
</g>

<!-- banner -->
<polygon points="0,845 656,845 562,977 0,977" fill="url(#banner)"/>
<polygon points="0,845 656,845 562,977 0,977" fill="url(#bannerDark)"/>
<!-- check icons -->
<g>
<circle cx="40" cy="892" r="8.7" fill="#fff"/>
<polyline points="35.5,892.3 38.6,895.2 44.4,889.4" fill="none" stroke="#557f7a" stroke-width="2.2" stroke-linecap="round" stroke-linejoin="round"/>
<circle cx="40" cy="928" r="8.7" fill="#fff"/>
<polyline points="35.5,928.3 38.6,931.2 44.4,925.4" fill="none" stroke="#52797a" stroke-width="2.2" stroke-linecap="round" stroke-linejoin="round"/>
</g>
</svg>
<div class="bl" style="top:884px;letter-spacing:0.86px;">Индентификация по RFID карта, брелок формата EM-marine</div>
<div class="bl" style="top:920px;letter-spacing:1.04px;">Ведение журнала УРВ (учета оаюочего времени)</div>
</body></html>
